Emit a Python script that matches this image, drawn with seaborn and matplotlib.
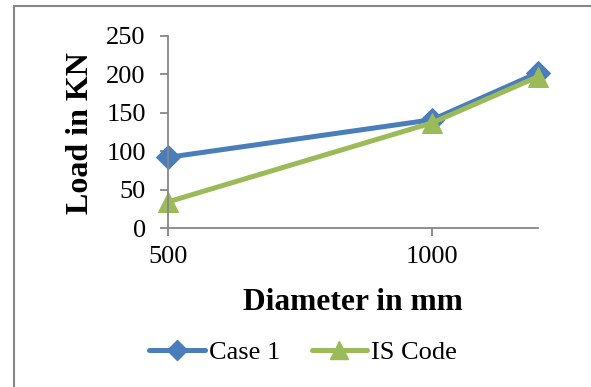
import matplotlib
matplotlib.use("Agg")
import matplotlib.pyplot as plt
import seaborn as sns
import pandas as pd
from matplotlib.lines import Line2D

diameters = [500, 1000, 1200]
case1 = [92, 141, 202]
is_code = [34, 137, 197]
series_names = ["Case 1", "IS Code"]
x_ticks = [500, 1000]
y_ticks = [0, 50, 100, 150, 200, 250]

sns.set_style("white")
plt.rcParams['font.family'] = ['Liberation Serif', 'DejaVu Serif']
plt.rcParams['text.color'] = 'black'

df = pd.DataFrame({
    "Diameter": diameters * 2,
    "Load": case1 + is_code,
    "Series": [series_names[0]] * len(diameters) + [series_names[1]] * len(diameters),
})

fig = plt.figure(figsize=(5.91, 3.87), dpi=100)
ax = fig.add_axes([168/591, 1 - 228/387, (538-168)/591, (228-36)/387])

blue = "#4A7EBB"
green = "#9BBB59"
axis_gray = "#868686"

sns.lineplot(data=df[df.Series == series_names[0]], x="Diameter", y="Load", ax=ax,
             color=blue, marker="D", markersize=12, markeredgecolor=blue,
             linewidth=3.6, legend=False)
sns.lineplot(data=df[df.Series == series_names[1]], x="Diameter", y="Load", ax=ax,
             color=green, marker="^", markersize=15, markeredgecolor=green,
             linewidth=3.6, legend=False)

ax.set_xlim(500, 1200)
ax.set_ylim(0, 250)
ax.set_xticks(x_ticks)
ax.set_yticks(y_ticks)
ax.set_xlabel("")
ax.set_ylabel("")
for s in ["top", "right"]:
    ax.spines[s].set_visible(False)
for s in ["left", "bottom"]:
    ax.spines[s].set_color(axis_gray)
    ax.spines[s].set_linewidth(1.3)
ax.tick_params(axis="both", direction="out", length=6, width=1.3, color=axis_gray,
               labelsize=19, labelcolor="black", bottom=True, left=True)
ax.tick_params(axis="x", pad=7)
ax.tick_params(axis="y", pad=10)
for ln in ax.lines:
    ln.set_clip_on(False)

fig.text(353/591, 1 - 302/387, "Diameter in mm", ha="center", va="center",
         fontsize=22.6, fontweight="bold", color="black")
fig.text(80/591, 1 - 133/387, "Load in KN", ha="center", va="center",
         fontsize=23, fontweight="bold", rotation=90, color="black")

handles = [
    Line2D([], [], color=blue, marker="D", markersize=10, linewidth=3.6),
    Line2D([], [], color=green, marker="^", markersize=13, linewidth=3.6),
]
fig.legend(handles, series_names, loc="center", bbox_to_anchor=(303/591, 1 - 352/387),
           ncol=2, frameon=False, fontsize=19, handlelength=2.1, handletextpad=0.15,
           columnspacing=1.2)

# outer frame lines (left and top visible)
fig.add_artist(Line2D([14/591, 14/591], [0, 1 - 6/387], transform=fig.transFigure,
                      color=axis_gray, linewidth=1.5))
fig.add_artist(Line2D([14/591, 1], [1 - 6/387, 1 - 6/387], transform=fig.transFigure,
                      color=axis_gray, linewidth=1.5))

fig.savefig("out.png", dpi=100)
